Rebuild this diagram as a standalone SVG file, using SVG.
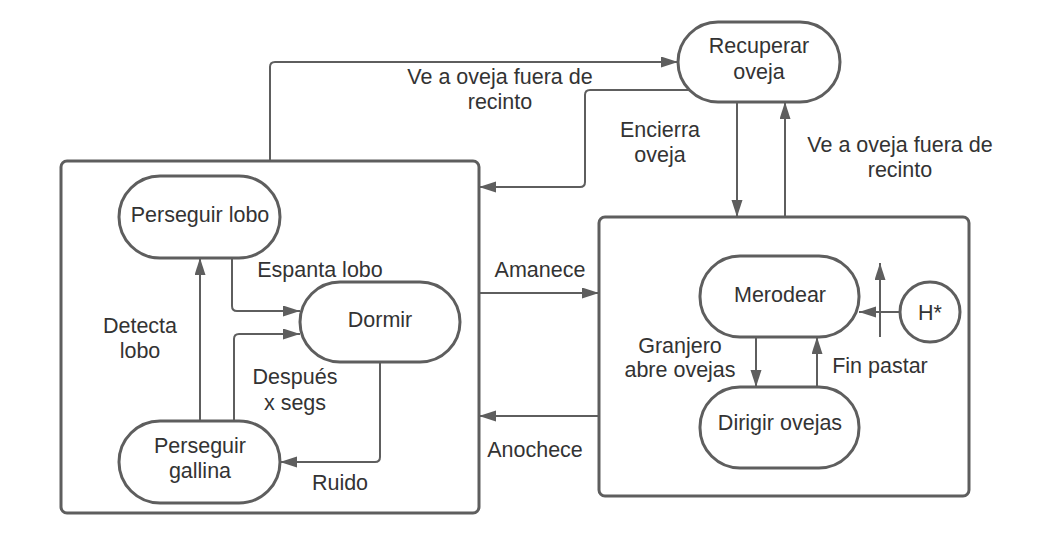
<svg xmlns="http://www.w3.org/2000/svg" width="1040" height="536" viewBox="0 0 1040 536">
<defs>
<style>
.box{fill:#ffffff;stroke:#5e5e5e;stroke-width:3}
.node{fill:#ffffff;stroke:#5e5e5e;stroke-width:3}
.edge{fill:none;stroke:#5e5e5e;stroke-width:2}
.arr{marker-end:url(#ah)}
text{font-family:"Liberation Sans",Arial,sans-serif;font-size:21.5px;fill:#333333;text-anchor:middle}
</style>
<marker id="ah" markerUnits="userSpaceOnUse" markerWidth="18" markerHeight="12" refX="17" refY="5.5" orient="auto">
<path d="M0,0 L17,5.5 L0,11 z" fill="#5e5e5e"/>
</marker>
</defs>
<rect width="1040" height="536" fill="#ffffff"/>

<g id="estado-noche">
<rect class="box" x="61" y="161" width="418" height="352" rx="6"/>
</g>
<g id="estado-dia">
<rect class="box" x="599" y="217" width="370" height="279" rx="6"/>
</g>

<g id="recuperar-oveja">
<rect class="node" x="678" y="22" width="162" height="80" rx="40"/>
<text x="759" y="53">Recuperar</text>
<text x="759" y="79">oveja</text>
</g>
<g id="perseguir-lobo">
<rect class="node" x="119" y="176" width="161" height="82" rx="41"/>
<text x="200" y="222">Perseguir lobo</text>
</g>
<g id="dormir">
<rect class="node" x="300" y="282" width="160" height="80" rx="40"/>
<text x="380" y="327">Dormir</text>
</g>
<g id="perseguir-gallina">
<rect class="node" x="119" y="421" width="161" height="82" rx="41"/>
<text x="200" y="453">Perseguir</text>
<text x="200" y="478">gallina</text>
</g>
<g id="merodear">
<rect class="node" x="700" y="256" width="159" height="81" rx="40"/>
<text x="780" y="302">Merodear</text>
</g>
<g id="dirigir-ovejas">
<rect class="node" x="700" y="387" width="159" height="81" rx="40"/>
<text x="780" y="430">Dirigir ovejas</text>
</g>
<g id="historia">
<circle class="node" cx="930" cy="312" r="30"/>
<text x="930" y="320">H*</text>
</g>

<g id="conectores">
<path class="edge arr" d="M270,161 V67 Q270,62 275,62 H678"/>
<path class="edge arr" d="M690,90 H590 Q585,90 585,95 V182 Q585,187 580,187 H479"/>
<path class="edge arr" d="M737,102 V217"/>
<path class="edge arr" d="M785,217 V102"/>
<path class="edge arr" d="M232,258 V306 Q232,311 237,311 H300"/>
<path class="edge arr" d="M234,421 V339 Q234,334 239,334 H300"/>
<path class="edge arr" d="M200,421 V258"/>
<path class="edge arr" d="M380,362 V457 Q380,462 375,462 H280"/>
<path class="edge arr" d="M479,293 H599"/>
<path class="edge arr" d="M599,416 H479"/>
<path class="edge arr" d="M756,337 V387"/>
<path class="edge arr" d="M817,387 V337"/>
<path class="edge arr" d="M900,312 H859"/>
<path class="edge arr" d="M880,337 V263"/>
</g>

<g id="etiquetas">
<text x="500" y="84">Ve a oveja fuera de</text>
<text x="500" y="109">recinto</text>
<text x="660" y="137">Encierra</text>
<text x="660" y="162">oveja</text>
<text x="900" y="152">Ve a oveja fuera de</text>
<text x="900" y="177">recinto</text>
<text x="320" y="277">Espanta lobo</text>
<text x="140" y="333">Detecta</text>
<text x="140" y="358">lobo</text>
<text x="295" y="384">Después</text>
<text x="295" y="410">x segs</text>
<text x="340" y="490">Ruido</text>
<text x="540" y="277">Amanece</text>
<text x="535" y="457">Anochece</text>
<text x="680" y="353">Granjero</text>
<text x="680" y="377">abre ovejas</text>
<text x="880" y="373">Fin pastar</text>
</g>
</svg>
